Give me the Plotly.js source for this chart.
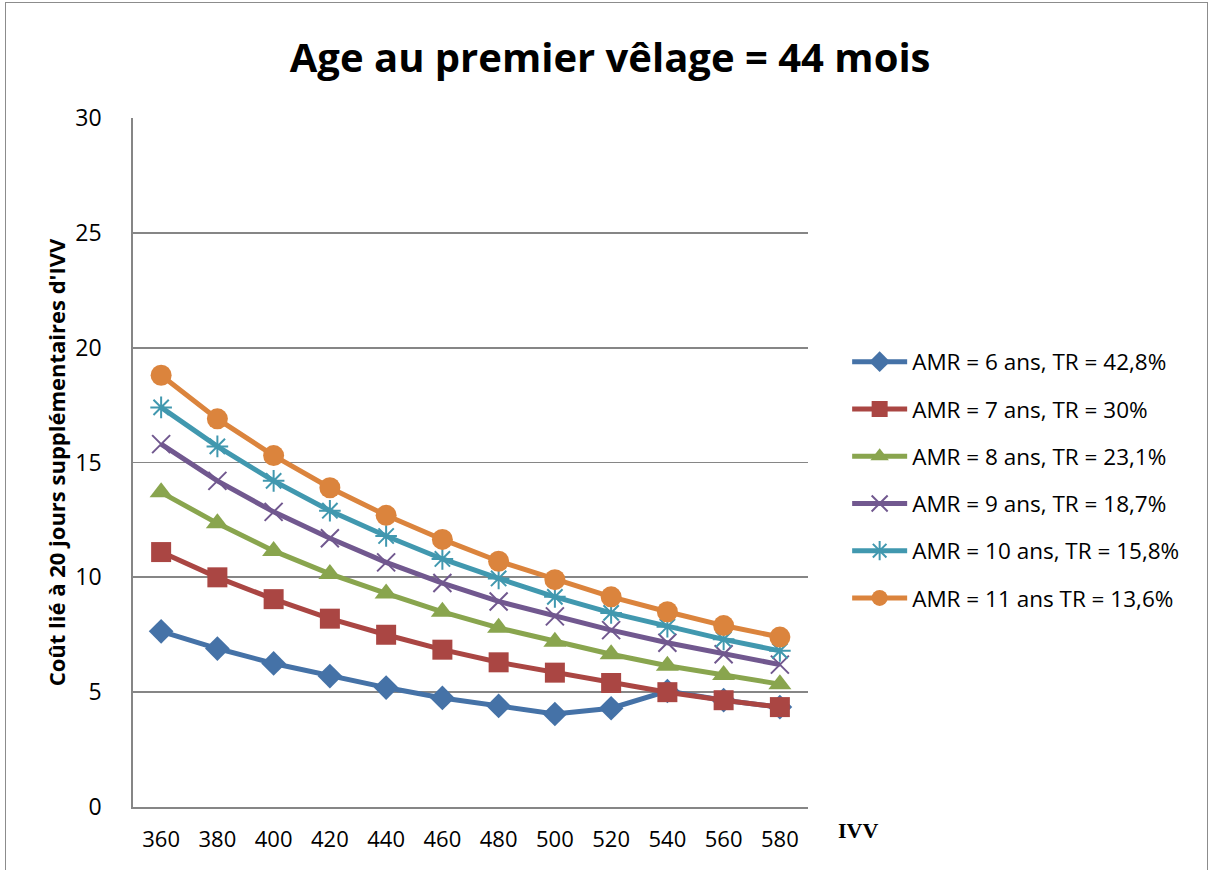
<!DOCTYPE html>
<html><head><meta charset="utf-8">
<script src="https://cdn.plot.ly/plotly-3.0.1.min.js"></script>
<style>
html,body{margin:0;padding:0;background:#fff;}
#frame{position:absolute;left:5px;top:2px;width:1201px;height:900px;border:1.5px solid #8c8c8c;}
#chart{position:absolute;left:0;top:0;width:1213px;height:870px;}
</style></head>
<body>
<div id="frame"></div>
<div id="chart"></div>
<script>
const categories = ["360","380","400","420","440","460","480","500","520","540","560","580"];
const seriesNames = ["AMR = 6 ans, TR = 42,8%","AMR = 7 ans, TR = 30%","AMR = 8 ans, TR = 23,1%","AMR = 9 ans, TR = 18,7%","AMR = 10 ans, TR = 15,8%","AMR = 11 ans TR = 13,6%"];
const amr6  = [7.65, 6.9, 6.25, 5.7, 5.2, 4.75, 4.4, 4.05, 4.3, 5.05, 4.65, 4.35];
const amr7  = [11.1, 10.0, 9.05, 8.2, 7.5, 6.85, 6.3, 5.85, 5.4, 5.0, 4.65, 4.35];
const amr8  = [13.7, 12.35, 11.15, 10.15, 9.3, 8.5, 7.8, 7.2, 6.65, 6.15, 5.75, 5.35];
const amr9  = [15.8, 14.2, 12.85, 11.7, 10.65, 9.75, 8.95, 8.3, 7.7, 7.15, 6.65, 6.2];
const amr10 = [17.4, 15.7, 14.2, 12.9, 11.8, 10.8, 9.95, 9.15, 8.45, 7.85, 7.3, 6.8];
const amr11 = [18.8, 16.9, 15.3, 13.9, 12.7, 11.65, 10.7, 9.9, 9.15, 8.5, 7.9, 7.4];
const yTicks = [0, 5, 10, 15, 20, 25, 30];

const allSeries = [amr6, amr7, amr8, amr9, amr10, amr11];
const colors = ["#4572A7","#AA4643","#89A54E","#71588F","#4198AF","#DB843D"];
const symbols = ["diamond","square","triangle-up","x-thin-open","asterisk-open","circle"];
const sizes = [19, 20, 20, 18, 18, 21];

const traces = allSeries.map((vals, i) => ({
  type: "scatter", mode: "lines+markers",
  x: categories, y: vals, name: seriesNames[i],
  legendgroup: "g" + i,
  line: {color: colors[i], width: 5},
  marker: {symbol: symbols[i], size: sizes[i], color: colors[i],
           line: {color: colors[i], width: (symbols[i].indexOf("open") >= 0) ? 2 : 0}}
}));

const layout = {
  width: 1213, height: 870,
  margin: {l: 133, r: 405, t: 118, b: 63},
  paper_bgcolor: "rgba(0,0,0,0)", plot_bgcolor: "rgba(0,0,0,0)",
  font: {family: "Open Sans, sans-serif", color: "#000"},
  title: {text: "<b>Age au premier vêlage = 44 mois</b>", font: {size: 40, family: "Open Sans, sans-serif", color: "#000"},
          x: 0.503, xref: "container", y: 0.933, yref: "container", yanchor: "middle"},
  xaxis: {type: "category", range: [-0.5, 11.5], showgrid: false, zeroline: false,
          showline: true, linecolor: "#868686", linewidth: 1.8,
          ticks: "", ticklabelstandoff: 12, tickfont: {size: 22, family: "Open Sans, sans-serif"}},
  yaxis: {range: [0, 30], tickvals: yTicks, showgrid: true, gridcolor: "#868686", gridwidth: 1.8,
          zeroline: false, showline: true, linecolor: "#868686", linewidth: 1.8,
          ticks: "", ticklabelstandoff: 25, tickfont: {size: 23, family: "Open Sans, sans-serif"},
          title: {text: "<b>Coût lié à 20 jours supplémentaires d'IVV</b>", standoff: 3,
                  font: {size: 22, family: "Open Sans, sans-serif"}}},
  legend: {x: 1.058, xanchor: "left", y: 0.677, yanchor: "top", tracegroupgap: 15, itemwidth: 55,
           font: {size: 22.5, family: "Open Sans, sans-serif"}, bgcolor: "rgba(0,0,0,0)"},
  annotations: [{text: "<b>IVV</b>", xref: "paper", yref: "paper", x: 1.074, y: -0.034,
                 showarrow: false, xanchor: "center", yanchor: "middle",
                 font: {size: 22, family: "Liberation Serif, serif", color: "#000"}}],
  showlegend: true
};

Plotly.newPlot("chart", traces, layout, {displayModeBar: false, staticPlot: true});
</script>
</body></html>
